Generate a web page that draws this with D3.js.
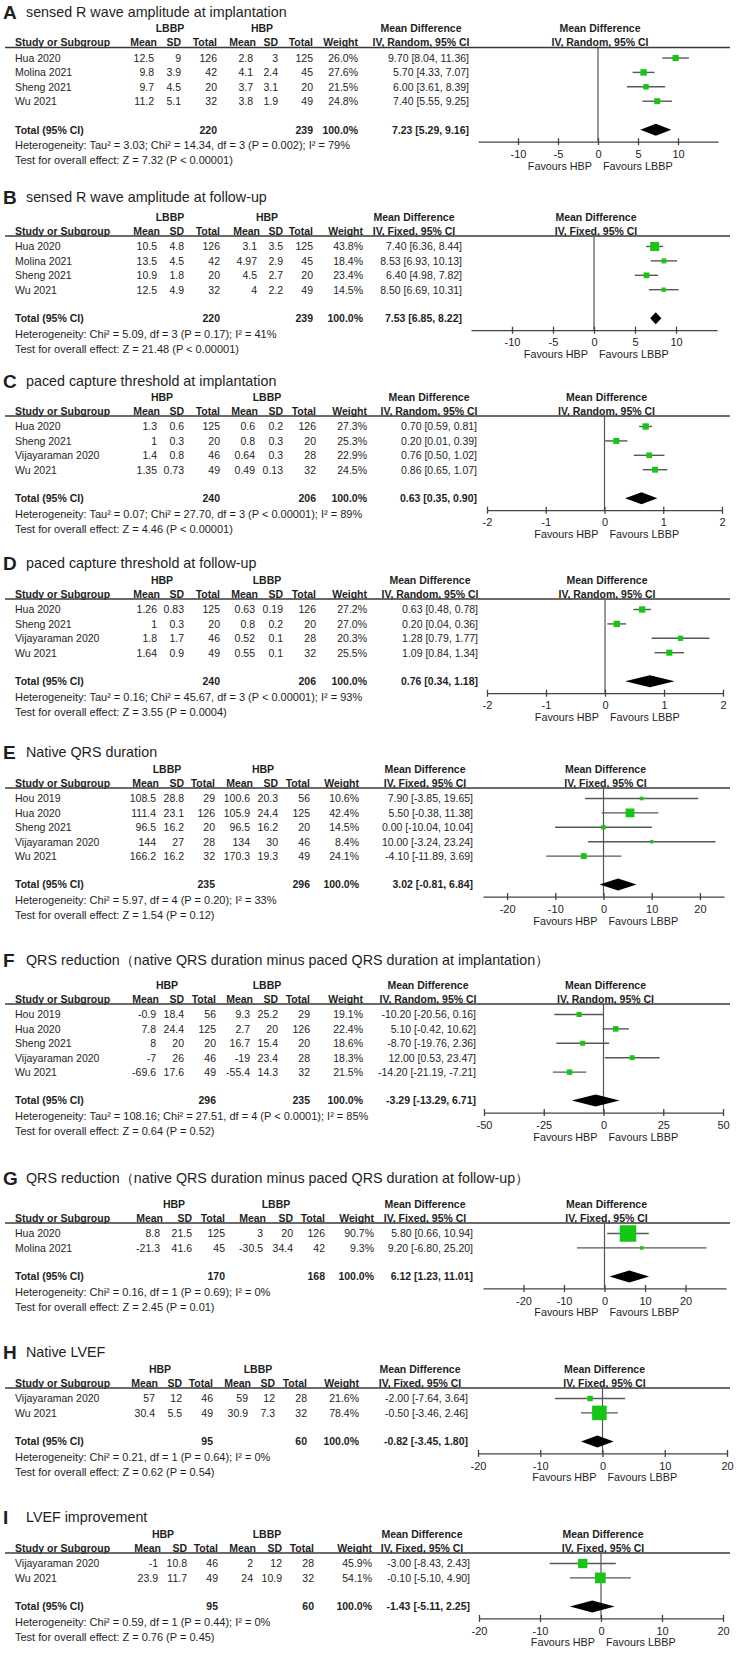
<!DOCTYPE html>
<html><head><meta charset="utf-8">
<script src="https://cdn.jsdelivr.net/npm/d3@7"></script>
<style>
body{margin:0;background:#fff}
svg{display:block}
text{font-family:Arial,"Liberation Sans",Helvetica,sans-serif;fill:#1e1e1e}
</style>
</head><body>
<svg id="c" width="740" height="1653"></svg>
<script>
// ---------------- DATA ----------------
const panelLetters = ["A","B","C","D","E","F","G","H","I"];
const panelTitles = [
  "sensed R wave amplitude at implantation",
  "sensed R wave amplitude at follow-up",
  "paced capture threshold at implantation",
  "paced capture threshold at follow-up",
  "Native QRS duration",
  "QRS reduction\uFF08native QRS duration minus paced QRS duration at implantation\uFF09",
  "QRS reduction\uFF08native QRS duration minus paced QRS duration at follow-up\uFF09",
  "Native LVEF",
  "LVEF improvement"
];
const groupLabels = [["LBBP","HBP"],["LBBP","HBP"],["HBP","LBBP"],["HBP","LBBP"],["LBBP","HBP"],["HBP","LBBP"],["HBP","LBBP"],["HBP","LBBP"],["HBP","LBBP"]];
const methods = ["IV, Random, 95% CI","IV, Fixed, 95% CI","IV, Random, 95% CI","IV, Random, 95% CI","IV, Fixed, 95% CI","IV, Random, 95% CI","IV, Fixed, 95% CI","IV, Fixed, 95% CI","IV, Fixed, 95% CI"];
const columnLabels = ["Study or Subgroup","Mean","SD","Total","Mean","SD","Total","Weight"];
const favoursLabels = ["Favours HBP","Favours LBBP"];

// rows: mean1, sd1, n1, mean2, sd2, n2, weight%, MD, lower, upper
const studiesA = ["Hua 2020","Molina 2021","Sheng 2021","Wu 2021"];
const rowsA = [[12.5,9,126,2.8,3,125,26.0,9.70,8.04,11.36],[9.8,3.9,42,4.1,2.4,45,27.6,5.70,4.33,7.07],[9.7,4.5,20,3.7,3.1,20,21.5,6.00,3.61,8.39],[11.2,5.1,32,3.8,1.9,49,24.8,7.40,5.55,9.25]];
const totalA = [220,239,7.23,5.29,9.16];

const studiesB = ["Hua 2020","Molina 2021","Sheng 2021","Wu 2021"];
const rowsB = [[10.5,4.8,126,3.1,3.5,125,43.8,7.40,6.36,8.44],[13.5,4.5,42,4.97,2.9,45,18.4,8.53,6.93,10.13],[10.9,1.8,20,4.5,2.7,20,23.4,6.40,4.98,7.82],[12.5,4.9,32,4,2.2,49,14.5,8.50,6.69,10.31]];
const totalB = [220,239,7.53,6.85,8.22];

const studiesC = ["Hua 2020","Sheng 2021","Vijayaraman 2020","Wu 2021"];
const rowsC = [[1.3,0.6,125,0.6,0.2,126,27.3,0.70,0.59,0.81],[1,0.3,20,0.8,0.3,20,25.3,0.20,0.01,0.39],[1.4,0.8,46,0.64,0.3,28,22.9,0.76,0.50,1.02],[1.35,0.73,49,0.49,0.13,32,24.5,0.86,0.65,1.07]];
const totalC = [240,206,0.63,0.35,0.90];

const studiesD = ["Hua 2020","Sheng 2021","Vijayaraman 2020","Wu 2021"];
const rowsD = [[1.26,0.83,125,0.63,0.19,126,27.2,0.63,0.48,0.78],[1,0.3,20,0.8,0.2,20,27.0,0.20,0.04,0.36],[1.8,1.7,46,0.52,0.1,28,20.3,1.28,0.79,1.77],[1.64,0.9,49,0.55,0.1,32,25.5,1.09,0.84,1.34]];
const totalD = [240,206,0.76,0.34,1.18];

const studiesE = ["Hou 2019","Hua 2020","Sheng 2021","Vijayaraman 2020","Wu 2021"];
const rowsE = [[108.5,28.8,29,100.6,20.3,56,10.6,7.90,-3.85,19.65],[111.4,23.1,126,105.9,24.4,125,42.4,5.50,-0.38,11.38],[96.5,16.2,20,96.5,16.2,20,14.5,0.00,-10.04,10.04],[144,27,28,134,30,46,8.4,10.00,-3.24,23.24],[166.2,16.2,32,170.3,19.3,49,24.1,-4.10,-11.89,3.69]];
const totalE = [235,296,3.02,-0.81,6.84];

const studiesF = ["Hou 2019","Hua 2020","Sheng 2021","Vijayaraman 2020","Wu 2021"];
const rowsF = [[-0.9,18.4,56,9.3,25.2,29,19.1,-10.20,-20.56,0.16],[7.8,24.4,125,2.7,20,126,22.4,5.10,-0.42,10.62],[8,20,20,16.7,15.4,20,18.6,-8.70,-19.76,2.36],[-7,26,46,-19,23.4,28,18.3,12.00,0.53,23.47],[-69.6,17.6,49,-55.4,14.3,32,21.5,-14.20,-21.19,-7.21]];
const totalF = [296,235,-3.29,-13.29,6.71];

const studiesG = ["Hua 2020","Molina 2021"];
const rowsG = [[8.8,21.5,125,3,20,126,90.7,5.80,0.66,10.94],[-21.3,41.6,45,-30.5,34.4,42,9.3,9.20,-6.80,25.20]];
const totalG = [170,168,6.12,1.23,11.01];

const studiesH = ["Vijayaraman 2020","Wu 2021"];
const rowsH = [[57,12,46,59,12,28,21.6,-2.00,-7.64,3.64],[30.4,5.5,49,30.9,7.3,32,78.4,-0.50,-3.46,2.46]];
const totalH = [95,60,-0.82,-3.45,1.80];

const studiesI = ["Vijayaraman 2020","Wu 2021"];
const rowsI = [[-1,10.8,46,2,12,28,45.9,-3.00,-8.43,2.43],[23.9,11.7,49,24,10.9,32,54.1,-0.10,-5.10,4.90]];
const totalI = [95,60,-1.43,-5.11,2.25];

const heterogeneity = [
  "Heterogeneity: Tau\u00B2 = 3.03; Chi\u00B2 = 14.34, df = 3 (P = 0.002); I\u00B2 = 79%",
  "Heterogeneity: Chi\u00B2 = 5.09, df = 3 (P = 0.17); I\u00B2 = 41%",
  "Heterogeneity: Tau\u00B2 = 0.07; Chi\u00B2 = 27.70, df = 3 (P < 0.00001); I\u00B2 = 89%",
  "Heterogeneity: Tau\u00B2 = 0.16; Chi\u00B2 = 45.67, df = 3 (P < 0.00001); I\u00B2 = 93%",
  "Heterogeneity: Chi\u00B2 = 5.97, df = 4 (P = 0.20); I\u00B2 = 33%",
  "Heterogeneity: Tau\u00B2 = 108.16; Chi\u00B2 = 27.51, df = 4 (P < 0.0001); I\u00B2 = 85%",
  "Heterogeneity: Chi\u00B2 = 0.16, df = 1 (P = 0.69); I\u00B2 = 0%",
  "Heterogeneity: Chi\u00B2 = 0.21, df = 1 (P = 0.64); I\u00B2 = 0%",
  "Heterogeneity: Chi\u00B2 = 0.59, df = 1 (P = 0.44); I\u00B2 = 0%"
];
const overallTests = [
  "Test for overall effect: Z = 7.32 (P < 0.00001)",
  "Test for overall effect: Z = 21.48 (P < 0.00001)",
  "Test for overall effect: Z = 4.46 (P < 0.00001)",
  "Test for overall effect: Z = 3.55 (P = 0.0004)",
  "Test for overall effect: Z = 1.54 (P = 0.12)",
  "Test for overall effect: Z = 0.64 (P = 0.52)",
  "Test for overall effect: Z = 2.45 (P = 0.01)",
  "Test for overall effect: Z = 0.62 (P = 0.54)",
  "Test for overall effect: Z = 0.76 (P = 0.45)"
];
const axisTicks = [[-10,-5,0,5,10],[-10,-5,0,5,10],[-2,-1,0,1,2],[-2,-1,0,1,2],[-20,-10,0,10,20],[-50,-25,0,25,50],[-20,-10,0,10,20],[-20,-10,0,10,20],[-20,-10,0,10,20]];
const axisDomains = [[-15,15],[-15,15],[-2,2],[-2,2],[-25,25],[-50,50],[-30,30],[-20,20],[-20,20]];

// ---------------- LAYOUT ----------------
const headerLineY = [47.5,236,416,599,788,1004,1223,1388,1553];
const titleCenterY = [12,197,381,563,752,960,1178,1352,1517];
const plotRanges = [[478,718],[471,717],[487,722],[487,723],[483,724],[484,723],[483,726],[478,727],[479,723]];
const columnRight = [
  [154,181,217,253,278,313,358,469],
  [157,184,220,257,283,313,363,462],
  [157,184,220,255,283,316,367,477],
  [157,184,220,255,283,316,367,478],
  [156,184,215,250,278,310,359,473],
  [156,184,216,250,278,310,363,476],
  [160,192,225,263,293,325,374,473],
  [155,182,213,248,275,307,359,468],
  [158,187,218,253,282,314,372,470]
];
const groupCenters = [[170,262],[170,267],[162,267],[162,267],[167,263],[167,267],[174,276],[160,258],[163,267]];

const studiesAll = [studiesA,studiesB,studiesC,studiesD,studiesE,studiesF,studiesG,studiesH,studiesI];
const rowsAll = [rowsA,rowsB,rowsC,rowsD,rowsE,rowsF,rowsG,rowsH,rowsI];
const totalsAll = [totalA,totalB,totalC,totalD,totalE,totalF,totalG,totalH,totalI];

// ---------------- DRAW ----------------
const svg = d3.select("#c");
const FS = 10.5;
const sizeScale = d3.scaleLinear().domain([0,100]).range([2,18]);
const f2 = v => v.toFixed(2);
const mdText = (m,l,u) => `${f2(m)} [${f2(l)}, ${f2(u)}]`;

panelLetters.forEach((letter, pi) => {
  const g = svg.append("g");
  const L = headerLineY[pi];
  const cols = columnRight[pi];
  const rows = rowsAll[pi];
  const studies = studiesAll[pi];
  const tot = totalsAll[pi];
  const x = d3.scaleLinear().domain(axisDomains[pi]).range(plotRanges[pi]);
  const rowY = i => L + 10.5 + i * 14.4;
  const totalY = rowY(rows.length - 1) + 28.5;
  const axisY = totalY + 12;
  const txt = (xx, yy, s, anchor, bold, size) => g.append("text")
      .attr("x", xx).attr("y", yy).attr("text-anchor", anchor || "start")
      .attr("font-size", size || FS).attr("font-weight", bold ? "bold" : "normal").text(s);

  // title
  txt(3, titleCenterY[pi] + 6.5, letter, "start", true, 19);
  txt(26, titleCenterY[pi] + 5, panelTitles[pi], "start", false, 14.3);

  // group header row
  const gy = L - 19 + 3.8;
  groupLabels[pi].forEach((gl, i) => txt(groupCenters[pi][i], gy, gl, "middle", true));
  txt(cols[7] - 48, gy, "Mean Difference", "middle", true);
  txt(x(0) + 2, gy, "Mean Difference", "middle", true);

  // column header row
  const hy = L - 1.5;
  txt(15, hy, columnLabels[0], "start", true);
  for (let c = 1; c < 8; c++) txt(cols[c - 1] + (c === 1 || c === 4 ? 3 : 0), hy, columnLabels[c], "end", true);
  txt(cols[7] - 48, hy, methods[pi], "middle", true);
  txt(x(0) + 2, hy, methods[pi], "middle", true);

  // header rule
  g.append("line").attr("x1", 5).attr("x2", 730).attr("y1", L).attr("y2", L)
    .attr("stroke", "#3a3a3a").attr("stroke-width", 1.3);

  // zero line
  g.append("line").attr("x1", x(0)).attr("x2", x(0)).attr("y1", L).attr("y2", axisY)
    .attr("stroke", "#555").attr("stroke-width", 1.2);

  // study rows
  rows.forEach((r, i) => {
    const y = rowY(i);
    const by = y + 3.8;
    txt(15, by, studies[i]);
    for (let c = 0; c < 6; c++) txt(cols[c], by, String(r[c]), "end");
    txt(cols[6], by, r[6].toFixed(1) + "%", "end");
    txt(cols[7], by, mdText(r[7], r[8], r[9]), "end");
    g.append("line").attr("x1", x(r[8])).attr("x2", x(r[9])).attr("y1", y).attr("y2", y)
      .attr("stroke", "#585858").attr("stroke-width", 1.4);
    const s = sizeScale(r[6]);
    g.append("rect").attr("x", x(r[7]) - s / 2).attr("y", y - s / 2).attr("width", s).attr("height", s)
      .attr("fill", "#17c517");
  });

  // total row
  const tb = totalY + 3.8;
  txt(15, tb, "Total (95% CI)", "start", true);
  txt(cols[2], tb, String(tot[0]), "end", true);
  txt(cols[5], tb, String(tot[1]), "end", true);
  txt(cols[6], tb, "100.0%", "end", true);
  txt(cols[7], tb, mdText(tot[2], tot[3], tot[4]), "end", true);
  const dh = 6;
  g.append("path")
    .attr("d", `M${x(tot[3])},${totalY} L${x(tot[2])},${totalY - dh} L${x(tot[4])},${totalY} L${x(tot[2])},${totalY + dh} Z`)
    .attr("fill", "#000");

  // heterogeneity & overall effect
  txt(15, totalY + 15.5 + 3.9, heterogeneity[pi], "start", false, 11);
  txt(15, totalY + 30.5 + 3.9, overallTests[pi], "start", false, 11);

  // axis
  const ax = g.append("g").attr("transform", `translate(0,${axisY})`)
    .call(d3.axisBottom(x).tickValues(axisTicks[pi]).tickSize(3.5).tickSizeOuter(0).tickPadding(5)
      .tickFormat(d => String(d)));
  ax.attr("font-family", null).attr("font-size", null);
  ax.select(".domain").attr("stroke", "#444").attr("stroke-width", 1.3);
  ax.selectAll(".tick line").attr("y1", -3.5).attr("stroke", "#444").attr("stroke-width", 1.3);
  ax.selectAll(".tick text").attr("font-size", 11).attr("fill", "#1e1e1e");

  // favours
  txt(x(0) - 6, axisY + 28, favoursLabels[0], "end", false, 10.8);
  txt(x(0) + 5, axisY + 28, favoursLabels[1], "start", false, 10.8);
});
</script>
</body></html>
